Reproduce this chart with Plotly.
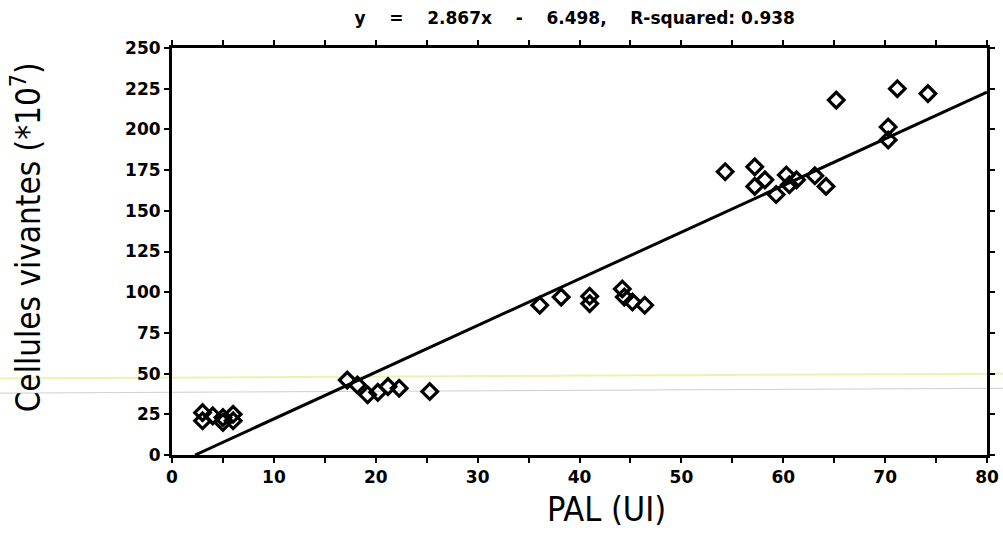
import plotly.graph_objects as go

pal = [3, 3, 4, 5, 5, 6, 6,
       17.2, 18.2, 19.2, 20.2, 21.2, 22.3, 25.3,
       36.1, 38.2, 41.0, 41.0, 44.2, 44.4, 45.2, 46.4,
       54.3, 57.2, 58.2, 57.2, 59.3, 60.3, 61.3, 60.6, 63.1, 64.2,
       65.2, 70.3, 70.3, 71.2, 74.2]
cells = [26, 21, 24, 23, 20, 25, 21,
         46, 43, 37, 38.5, 42, 41, 39,
         92, 97, 97.5, 93, 102, 97, 94, 92,
         174, 177, 169, 165, 160, 172, 169, 166, 171.5, 165,
         218, 201.5, 193.5, 225, 222]

slope = 2.867
intercept = -6.498
r_squared = 0.938
x_line = [-intercept / slope, 80]
y_line = [slope * v + intercept for v in x_line]

BOLD = "DejaVu Sans, Liberation Sans, Arial"
NARROW = "Liberation Sans Narrow, DejaVu Sans Condensed, Arial Narrow, sans-serif"
NB = "\u00a0"

fig = go.Figure()
fig.add_trace(go.Scatter(x=x_line, y=y_line, mode="lines",
                         line=dict(color="black", width=3), showlegend=False))
fig.add_trace(go.Scatter(x=pal, y=cells, mode="markers",
                         marker=dict(symbol="diamond-open", size=12, color="black",
                                     line=dict(width=3.2, color="black")),
                         showlegend=False))

axis_common = dict(showgrid=False, zeroline=False, showline=True, linecolor="black",
                   linewidth=3, mirror="allticks", ticks="outside", ticklen=5,
                   tickwidth=2, tickcolor="black", automargin=False,
                   tickfont=dict(family=BOLD, size=17, color="black", weight="bold"))
fig.update_xaxes(range=[0, 80], dtick=10, tick0=0,
                 minor=dict(dtick=5, ticks="outside", ticklen=5, tickwidth=2, tickcolor="black"),
                 **axis_common)
fig.update_yaxes(range=[0, 250], dtick=25, tick0=0, **axis_common)

fig.add_annotation(text="Cellules vivantes (*10<sup>7</sup>)", xref="paper", yref="paper",
                   x=-0.179, y=0.535, xanchor="center", yanchor="middle", textangle=-90,
                   showarrow=False, font=dict(family=NARROW, size=33, color="black"))
fig.add_annotation(text="PAL (UI)", xref="paper", yref="paper", x=0.533, y=-0.133,
                   xanchor="center", yanchor="middle", showarrow=False,
                   font=dict(family=NARROW, size=34, color="black"))

sp = NB * 4
title_text = f"y{sp}={sp}{slope:.3f}x{sp}-{sp}{abs(intercept):.3f},{sp}R-squared: {r_squared:.3f}"

fig.add_shape(type="line", xref="paper", yref="y", x0=-0.215, x1=1.03, y0=47, y1=50,
              line=dict(color="rgba(230,230,120,0.6)", width=2), layer="below")
fig.add_shape(type="line", xref="paper", yref="y", x0=-0.215, x1=1.03, y0=38, y1=41,
              line=dict(color="rgba(160,160,160,0.5)", width=1), layer="below")

fig.update_layout(
    width=1003, height=533,
    margin=dict(l=172, r=16, t=48, b=78),
    paper_bgcolor="white", plot_bgcolor="white",
    title=dict(text=title_text, x=0.573, xanchor="center",
               y=0.966, yanchor="middle",
               font=dict(family=BOLD, size=17, color="black", weight="bold")),
)

fig.write_html("out.html", config={"displayModeBar": False},
               post_script="document.body.style.margin='0';document.body.style.overflow='hidden';")
